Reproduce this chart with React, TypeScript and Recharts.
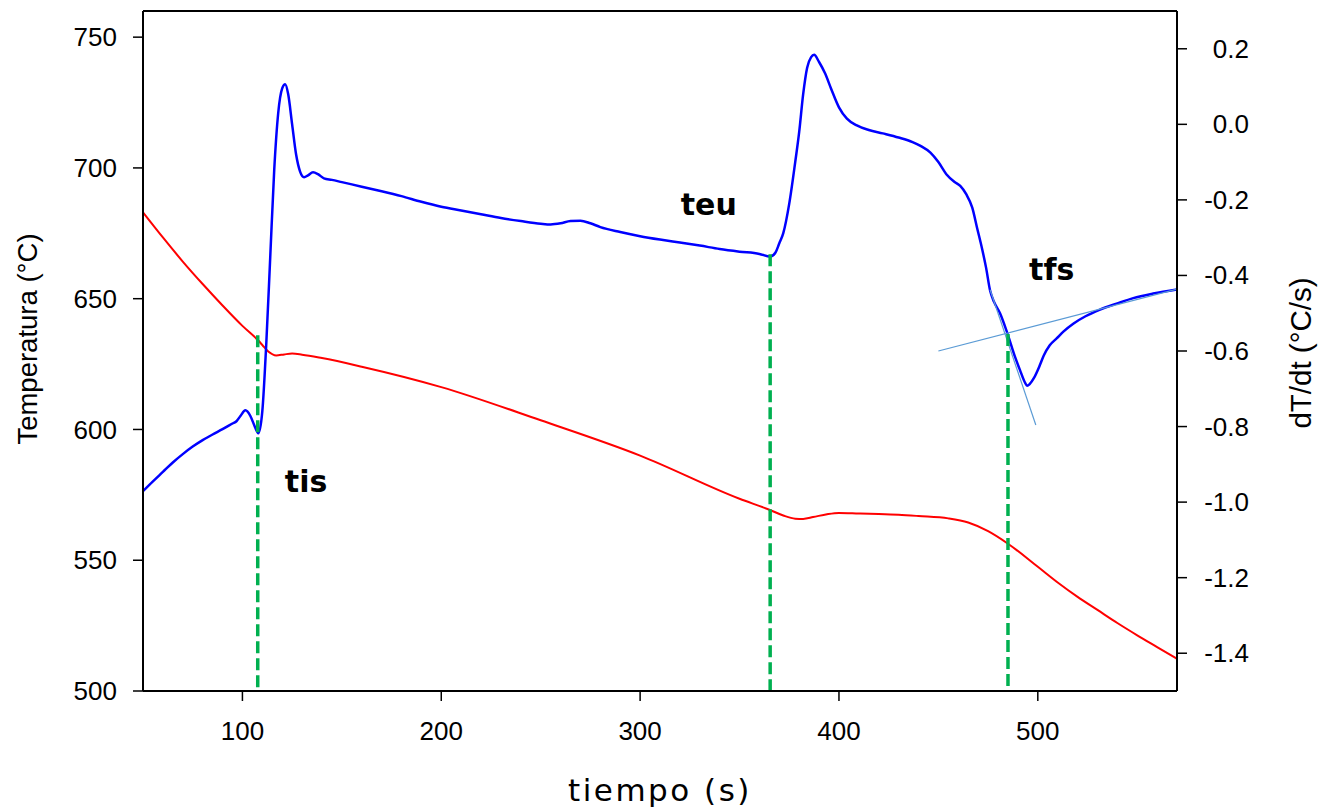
import React from "react";
import {
  ComposedChart,
  Line,
  XAxis,
  YAxis,
  ReferenceLine,
  ReferenceDot,
} from "recharts";

// temperature curve (left axis, °C)
const tempTime = [
  50, 60, 70, 80, 90, 100, 108, 110, 113, 117, 121, 125, 130, 140, 160, 200, 250,
  300, 350, 365, 372, 378, 382, 387, 394, 400, 410, 420, 430, 440, 455, 465, 475,
  485, 500, 510, 520, 530, 540, 550, 560, 570,
];
const tempValues = [
  683, 673.4, 664.2, 655.6, 647.4, 639.6, 634, 632.3, 629.8, 628.3, 628.7, 629,
  628.6, 627.3, 624, 616.2, 603.5, 590, 573.5, 569.3, 567.1, 565.9, 565.8, 566.5,
  567.6, 568.1, 567.9, 567.7, 567.4, 566.9, 566, 564.4, 561.1, 556.3, 547.5, 541.5,
  536, 531, 526, 521.3, 516.8, 512.3,
];

// cooling rate curve (right axis, °C/s)
const rateTime = [
  50, 55, 60, 65, 70, 75, 80, 85, 90, 95, 97, 99, 101.5, 104, 106, 108, 110, 112,
  114, 116, 118, 120, 121.5, 123, 125, 127, 129, 131, 133, 135.5, 138, 141, 145,
  150, 160, 170, 180, 190, 200, 210, 220, 230, 240, 250, 255, 260, 265, 270, 275,
  280, 290, 300, 310, 320, 330, 340, 350, 360, 365.5, 368, 370, 372, 375, 378, 380,
  382, 384, 386, 387.5, 390, 393, 396, 400, 404, 409, 415, 422, 430, 437, 441, 446,
  450, 454, 458, 461, 464, 467, 469.5, 472, 474, 476, 478, 481, 484.5, 488.5, 491,
  493.7, 494.6, 496, 498, 501, 503, 506, 509.6, 513, 518, 524, 531, 540, 548, 558,
  570,
];
const rateValues = [
  -0.971, -0.945, -0.92, -0.895, -0.873, -0.853, -0.836, -0.821, -0.807, -0.792,
  -0.786, -0.772, -0.757, -0.772, -0.797, -0.818, -0.76, -0.58, -0.35, -0.12, 0.03,
  0.095, 0.106, 0.08, 0.0, -0.08, -0.125, -0.14, -0.135, -0.127, -0.132, -0.143,
  -0.147, -0.153, -0.165, -0.177, -0.19, -0.205, -0.218, -0.228, -0.238, -0.248,
  -0.256, -0.263, -0.265, -0.262, -0.256, -0.255, -0.262, -0.272, -0.285, -0.296,
  -0.305, -0.313, -0.321, -0.33, -0.337, -0.343, -0.35, -0.34, -0.315, -0.288,
  -0.21, -0.1, -0.02, 0.08, 0.15, 0.178, 0.184, 0.165, 0.135, 0.095, 0.045, 0.015,
  -0.003, -0.015, -0.024, -0.035, -0.047, -0.057, -0.075, -0.1, -0.132, -0.152,
  -0.163, -0.185, -0.22, -0.275, -0.33, -0.38, -0.44, -0.47, -0.5, -0.55, -0.615,
  -0.65, -0.685, -0.692, -0.687, -0.672, -0.638, -0.612, -0.585, -0.566, -0.548,
  -0.527, -0.508, -0.491, -0.474, -0.46, -0.448, -0.437,
];

const xTicks = [100, 200, 300, 400, 500];
const leftTicks = [500, 550, 600, 650, 700, 750];
const rightTicks = [-1.4, -1.2, -1.0, -0.8, -0.6, -0.4, -0.2, 0.0, 0.2];

// characteristic times: time, top of the marker (°C) and where the name sits
const markers = [
  { name: "tis", t: 107.7, top: 636, labelT: 132, labelY: 580 },
  { name: "teu", t: 365.4, top: 667, labelT: 334.5, labelY: 686 },
  { name: "tfs", t: 485, top: 636.5, labelT: 507, labelY: 661 },
];

// tangent construction for tfs (right axis units)
const tangentA = [
  { x: 450, y: -0.6 },
  { x: 570, y: -0.436 },
];
const tangentB = [
  { x: 476, y: -0.438 },
  { x: 499, y: -0.796 },
];

const tempData = tempTime.map((t, i) => ({ t, temp: tempValues[i] }));
const rateData = rateTime.map((t, i) => ({ t, rate: rateValues[i] }));

const tickFont = {
  fontFamily: "'Liberation Sans', Arial, sans-serif",
  fontSize: 26,
  fill: "#000",
};

const axisTitle = {
  fontFamily: "'Liberation Sans', Arial, sans-serif",
  fill: "#000",
};

const RightTick = (props: any) => {
  const { x, y, payload } = props;
  return (
    <text
      x={x + 48}
      y={y}
      textAnchor="end"
      dominantBaseline="central"
      style={tickFont}
    >
      {Number(payload.value).toFixed(1)}
    </text>
  );
};

const markerText = (label: string) => (props: any) => (
  <text
    x={props.cx}
    y={props.cy}
    textAnchor="middle"
    dominantBaseline="central"
    style={{
      fontFamily: "'DejaVu Sans', Verdana, sans-serif",
      fontWeight: "bold",
      fontSize: 30,
      fill: "#000",
    }}
  >
    {label}
  </text>
);

export default function App() {
  return (
    <div
      style={{
        position: "absolute",
        left: 0,
        top: 0,
        width: 1327,
        height: 808,
        background: "#fff",
      }}
    >
      <ComposedChart
        width={1327}
        height={808}
        margin={{ top: 11, right: 0, bottom: 0, left: 0 }}
      >
        <XAxis
          dataKey="t"
          type="number"
          domain={[50, 570]}
          ticks={xTicks}
          allowDataOverflow
          height={117}
          tickSize={10}
          tickMargin={21}
          axisLine={{ stroke: "#000", strokeWidth: 2 }}
          tickLine={{ stroke: "#000", strokeWidth: 1.5 }}
          tick={tickFont}
          label={{
            content: (p: any) => {
              const vb = p.viewBox || { x: 143, y: 691, width: 1034 };
              return (
                <text
                  x={vb.x + vb.width / 2}
                  y={vb.y + 99}
                  textAnchor="middle"
                  dominantBaseline="central"
                  style={{
                    fontFamily: "'DejaVu Sans', Verdana, sans-serif",
                    fontSize: 31,
                    letterSpacing: 2.5,
                    fill: "#000",
                  }}
                >
                  tiempo (s)
                </text>
              );
            },
          }}
        />
        <YAxis
          yAxisId="left"
          type="number"
          domain={[500, 760]}
          ticks={leftTicks}
          allowDataOverflow
          width={143}
          tickSize={10}
          tickMargin={16}
          axisLine={{ stroke: "#000", strokeWidth: 2 }}
          tickLine={{ stroke: "#000", strokeWidth: 1.5 }}
          tick={tickFont}
          label={{
            content: (p: any) => {
              const vb = p.viewBox || { x: 0, y: 11, height: 680 };
              const cx = vb.x + 27;
              const cy = vb.y + vb.height / 2 - 12;
              return (
                <text
                  x={cx}
                  y={cy}
                  transform={`rotate(-90, ${cx}, ${cy})`}
                  textAnchor="middle"
                  dominantBaseline="central"
                  style={{ ...axisTitle, fontSize: 27.5 }}
                >
                  Temperatura (°C)
                </text>
              );
            },
          }}
        />
        <YAxis
          yAxisId="right"
          orientation="right"
          type="number"
          domain={[-1.5, 0.3]}
          ticks={rightTicks}
          allowDataOverflow
          width={150}
          tickSize={10}
          tickMargin={14}
          axisLine={{ stroke: "#000", strokeWidth: 2 }}
          tickLine={{ stroke: "#000", strokeWidth: 1.5 }}
          tick={<RightTick />}
          label={{
            content: (p: any) => {
              const vb = p.viewBox || { x: 1177, y: 11, height: 680 };
              const cx = vb.x + 123;
              const cy = vb.y + vb.height / 2 + 2;
              return (
                <text
                  x={cx}
                  y={cy}
                  transform={`rotate(-90, ${cx}, ${cy})`}
                  textAnchor="middle"
                  dominantBaseline="central"
                  style={{ ...axisTitle, fontSize: 29.5 }}
                >
                  dT/dt (°C/s)
                </text>
              );
            },
          }}
        />

        {/* top frame */}
        <ReferenceLine yAxisId="left" y={760} stroke="#000" strokeWidth={2} />

        <Line
          yAxisId="left"
          data={tempData}
          dataKey="temp"
          type="monotone"
          stroke="#ff0000"
          strokeWidth={2}
          dot={false}
          isAnimationActive={false}
        />
        <Line
          yAxisId="right"
          data={rateData}
          dataKey="rate"
          type="monotone"
          stroke="#0000ff"
          strokeWidth={2.5}
          dot={false}
          isAnimationActive={false}
        />

        <ReferenceLine
          yAxisId="right"
          segment={tangentA}
          stroke="#5b9bd5"
          strokeWidth={1.2}
          ifOverflow="visible"
        />
        <ReferenceLine
          yAxisId="right"
          segment={tangentB}
          stroke="#5b9bd5"
          strokeWidth={1.2}
          ifOverflow="visible"
        />

        {markers.map((m) => (
          <ReferenceLine
            key={m.name + "-line"}
            yAxisId="left"
            segment={[
              { x: m.t, y: m.top },
              { x: m.t, y: 500 },
            ]}
            stroke="#00b050"
            strokeWidth={3.5}
            strokeDasharray="12 5"
            ifOverflow="visible"
          />
        ))}
        {markers.map((m) => (
          <ReferenceDot
            key={m.name + "-label"}
            yAxisId="left"
            x={m.labelT}
            y={m.labelY}
            r={1}
            shape={markerText(m.name)}
            ifOverflow="visible"
          />
        ))}
      </ComposedChart>
    </div>
  );
}
